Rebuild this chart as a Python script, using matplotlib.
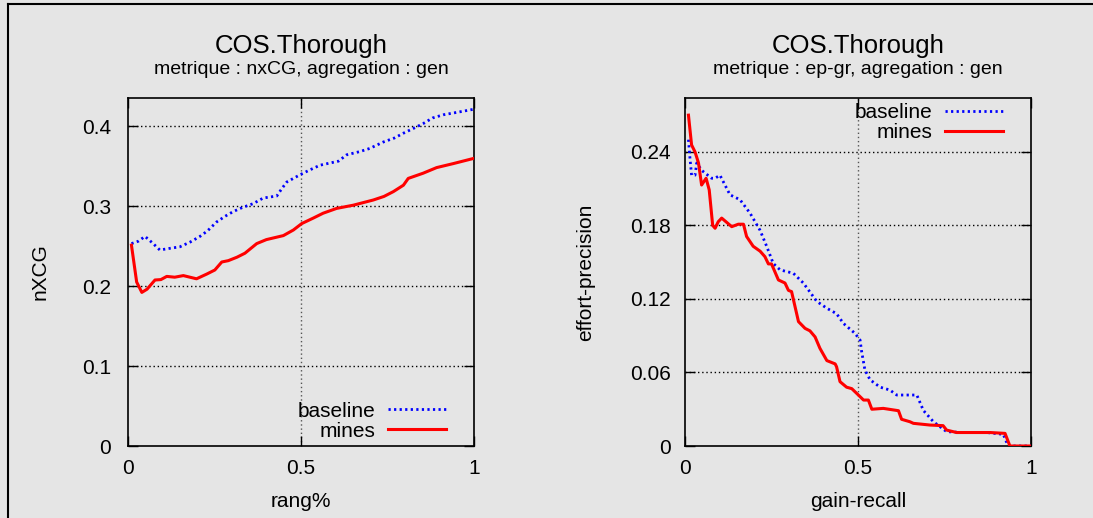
import matplotlib.pyplot as plt
from matplotlib.lines import Line2D

# nxCG panel (rang% -> nXCG)
nx_base_x = [0.01, 0.03, 0.049, 0.06, 0.08, 0.092, 0.12, 0.15, 0.18, 0.208, 0.23, 0.256,
             0.28, 0.304, 0.33, 0.362, 0.391, 0.43, 0.445, 0.459, 0.497, 0.525, 0.555,
             0.608, 0.632, 0.67, 0.699, 0.738, 0.77, 0.796, 0.825, 0.853, 0.88, 0.911,
             0.95, 1.0]
nx_base_y = [0.253, 0.256, 0.262, 0.258, 0.250, 0.245, 0.247, 0.249, 0.255, 0.262, 0.269,
             0.280, 0.287, 0.293, 0.298, 0.303, 0.310, 0.3125, 0.322, 0.330, 0.339, 0.345,
             0.351, 0.356, 0.364, 0.368, 0.372, 0.380, 0.385, 0.391, 0.397, 0.403, 0.410,
             0.414, 0.417, 0.421]
nx_mines_x = [0.01, 0.025, 0.04, 0.055, 0.078, 0.095, 0.112, 0.135, 0.16, 0.198, 0.228,
              0.251, 0.271, 0.29, 0.315, 0.338, 0.372, 0.40, 0.449, 0.478, 0.502, 0.536,
              0.564, 0.603, 0.651, 0.709, 0.74, 0.767, 0.796, 0.81, 0.853, 0.892, 0.94, 1.0]
nx_mines_y = [0.251, 0.205, 0.192, 0.196, 0.2075, 0.208, 0.212, 0.211, 0.213, 0.209, 0.215,
              0.220, 0.230, 0.2317, 0.236, 0.241, 0.253, 0.258, 0.263, 0.270, 0.278, 0.285,
              0.291, 0.297, 0.301, 0.3075, 0.312, 0.318, 0.326, 0.3345, 0.341, 0.348, 0.353,
              0.3596]

# ep-gr panel (gain-recall -> effort-precision)
ep_base_x = [0.01, 0.014, 0.019, 0.029, 0.034, 0.048, 0.077, 0.087, 0.101, 0.13, 0.159,
             0.188, 0.217, 0.236, 0.255, 0.275, 0.313, 0.342, 0.381, 0.41, 0.438, 0.458,
             0.491, 0.506, 0.51, 0.52, 0.535, 0.564, 0.592, 0.612, 0.67, 0.689, 0.718,
             0.756, 0.804, 0.872, 0.92, 0.934, 1.0]
ep_base_y = [0.250, 0.236, 0.221, 0.221, 0.231, 0.225, 0.2185, 0.2185, 0.221, 0.205, 0.201,
             0.190, 0.176, 0.163, 0.149, 0.1437, 0.141, 0.133, 0.118, 0.1124, 0.108, 0.100,
             0.092, 0.0865, 0.078, 0.062, 0.054, 0.048, 0.0457, 0.0416, 0.0416, 0.029,
             0.0198, 0.0117, 0.011, 0.011, 0.0095, 0.0, 0.0]
ep_mines_x = [0.01, 0.019, 0.029, 0.039, 0.048, 0.061, 0.07, 0.08, 0.087, 0.096, 0.106,
              0.135, 0.154, 0.169, 0.178, 0.197, 0.217, 0.231, 0.241, 0.25, 0.27, 0.289,
              0.299, 0.308, 0.328, 0.347, 0.361, 0.376, 0.39, 0.41, 0.434, 0.438, 0.448,
              0.467, 0.482, 0.496, 0.516, 0.53, 0.54, 0.573, 0.617, 0.626, 0.65, 0.66,
              0.708, 0.746, 0.756, 0.785, 0.882, 0.925, 0.939, 1.0]
ep_mines_y = [0.270, 0.2457, 0.240, 0.231, 0.213, 0.2185, 0.209, 0.180, 0.1777, 0.183,
              0.186, 0.179, 0.181, 0.181, 0.171, 0.163, 0.159, 0.1545, 0.1486, 0.1486,
              0.1355, 0.133, 0.127, 0.126, 0.1015, 0.096, 0.094, 0.089, 0.0797, 0.0697,
              0.067, 0.0647, 0.0525, 0.048, 0.0468, 0.043, 0.0375, 0.0375, 0.030, 0.0307,
              0.0288, 0.0218, 0.0198, 0.0185, 0.0171, 0.0166, 0.013, 0.011, 0.011, 0.0103,
              0.0, 0.0]

xticks = [0, 0.5, 1]
xticklabels = ["0", "0.5", "1"]
nx_yticks = [0, 0.1, 0.2, 0.3, 0.4]
nx_yticklabels = ["0", "0.1", "0.2", "0.3", "0.4"]
ep_yticks = [0, 0.06, 0.12, 0.18, 0.24]
ep_yticklabels = ["0", "0.06", "0.12", "0.18", "0.24"]

plt.rcParams["font.family"] = ["Liberation Sans", "DejaVu Sans"]
BG = "#e5e5e5"

fig = plt.figure(figsize=(10.93, 5.18), dpi=100, facecolor=BG)

# frame around the picture (top and left edges visible)
fig.add_artist(Line2D([8 / 1093, 1], [1 - 4 / 518, 1 - 4 / 518], color="black", lw=1.5,
                      transform=fig.transFigure))
fig.add_artist(Line2D([8 / 1093, 8 / 1093], [0, 1 - 4 / 518], color="black", lw=1.5,
                      transform=fig.transFigure))


def setup(ax, ylim, yticks, yticklabels, xlabel, ylabel, ylab_x, ypad):
    ax.set_facecolor(BG)
    ax.set_xlim(0, 1)
    ax.set_ylim(*ylim)
    ax.set_xticks(xticks)
    ax.set_xticklabels(xticklabels)
    ax.set_yticks(yticks)
    ax.set_yticklabels(yticklabels)
    ax.tick_params(direction="in", length=7, width=1, top=True, right=True,
                   labelsize=15, colors="black")
    ax.tick_params(axis="x", pad=9)
    ax.tick_params(axis="y", pad=ypad)
    for s in ax.spines.values():
        s.set_linewidth(1.2)
    # gnuplot-like dotted grid, only at interior ticks
    ax.axvline(0.5, color="#555555", ls=(0, (1, 2)), lw=1, zorder=1)
    for yv in yticks[1:]:
        ax.axhline(yv, color="black", ls=(0, (1, 2)), lw=1, zorder=1)
    ax.set_xlabel(xlabel, fontsize=15)
    ax.set_ylabel(ylabel, fontsize=15)
    ax.xaxis.set_label_coords(0.5, -0.132)
    ax.yaxis.set_label_coords(ylab_x, 0.5)


ax1 = fig.add_axes([128 / 1093, 72 / 518, 346 / 1093, 348 / 518])
ax2 = fig.add_axes([685 / 1093, 72 / 518, 346 / 1093, 348 / 518])

setup(ax1, (0, 0.435), nx_yticks, nx_yticklabels, "rang%", "nXCG", -0.228, 12)
setup(ax2, (0, 0.284), ep_yticks, ep_yticklabels, "gain-recall", "effort-precision", -0.26, 10)

for ax, bx, by, mx, my in [(ax1, nx_base_x, nx_base_y, nx_mines_x, nx_mines_y),
                           (ax2, ep_base_x, ep_base_y, ep_mines_x, ep_mines_y)]:
    ax.plot(bx, by, color="#0000ff", lw=2, ls=(0, (0.8, 1.2)), label="baseline", zorder=3)
    ax.plot(mx, my, color="#ff0000", lw=2.2, label="mines", zorder=4)

leg_kw = dict(frameon=False, markerfirst=False, fontsize=15, handlelength=2.8,
              handletextpad=0.6, labelspacing=0.05, borderaxespad=0, borderpad=0)
ax1.legend(loc="lower right", bbox_to_anchor=(0.92, 0.015), **leg_kw)
ax2.legend(loc="upper right", bbox_to_anchor=(0.92, 0.985), **leg_kw)

for cx, sub in [(301, "metrique : nxCG, agregation : gen"),
                (858, "metrique : ep-gr, agregation : gen")]:
    fig.text(cx / 1093, 1 - 46 / 518, "COS.Thorough", ha="center", va="center", fontsize=18.5)
    fig.text(cx / 1093, 1 - 70 / 518, sub, ha="center", va="center", fontsize=14)

fig.savefig("out.png", dpi=100, facecolor=BG)
